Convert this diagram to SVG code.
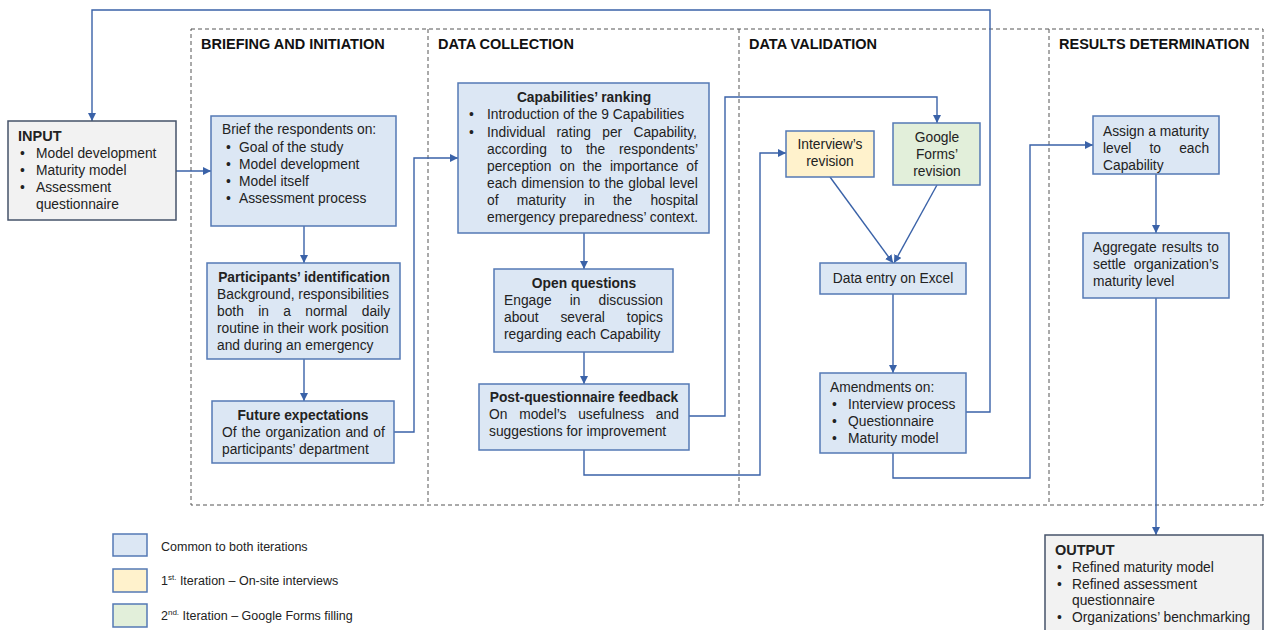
<svg xmlns="http://www.w3.org/2000/svg" width="1265" height="630" viewBox="0 0 1265 630">
<defs>
<marker id="ah" viewBox="0 0 10 10" refX="10" refY="5" markerWidth="8" markerHeight="8" markerUnits="userSpaceOnUse" orient="auto">
<path d="M0,0 L10,5 L0,10 z" fill="#3a62a8"/>
</marker>
<style>
text{font-family:"Liberation Sans",Arial,sans-serif;font-size:13.8px;fill:#222}
.t{font-weight:bold}
.h{font-weight:bold;font-size:14.5px;fill:#111}
.c{text-anchor:middle}
.phase{fill:none;stroke:#555;stroke-width:1;stroke-dasharray:4,3}
.b{fill:#dce7f4;stroke:#5479b5;stroke-width:1.5}
.y{fill:#fff2cc;stroke:#5479b5;stroke-width:1.5}
.g{fill:#e2efda;stroke:#5479b5;stroke-width:1.5}
.io{fill:#f2f2f2;stroke:#46536a;stroke-width:1.5}
.ln{fill:none;stroke:#3a62a8;stroke-width:1.4}
.lg{font-size:12.5px}
</style>
</defs>
<rect width="1265" height="630" fill="#fff"/>

<g id="phases">
<rect class="phase" x="191" y="29" width="1072" height="476"/>
<line class="phase" x1="428" y1="29" x2="428" y2="505"/>
<line class="phase" x1="739" y1="29" x2="739" y2="505"/>
<line class="phase" x1="1049" y1="29" x2="1049" y2="505"/>
<text class="h" x="201" y="49">BRIEFING AND INITIATION</text>
<text class="h" x="438" y="49">DATA COLLECTION</text>
<text class="h" x="749" y="49">DATA VALIDATION</text>
<text class="h" x="1059" y="49">RESULTS DETERMINATION</text>
</g>

<g id="connectors">
<path class="ln" d="M176,171 H211" marker-end="url(#ah)"/>
<path class="ln" d="M304,226 V263" marker-end="url(#ah)"/>
<path class="ln" d="M304,359 V401" marker-end="url(#ah)"/>
<path class="ln" d="M394,432 H414 V158 H458" marker-end="url(#ah)"/>
<path class="ln" d="M584,233 V269" marker-end="url(#ah)"/>
<path class="ln" d="M584,352 V384" marker-end="url(#ah)"/>
<path class="ln" d="M689,416 H725 V97 H937 V123" marker-end="url(#ah)"/>
<path class="ln" d="M584,450 V475 H760 V153 H786" marker-end="url(#ah)"/>
<path class="ln" d="M830,177 L893,263" marker-end="url(#ah)"/>
<path class="ln" d="M937,185 L894,263" marker-end="url(#ah)"/>
<path class="ln" d="M893,294 V373" marker-end="url(#ah)"/>
<path class="ln" d="M966,412 H990 V10 H92 V121" marker-end="url(#ah)"/>
<path class="ln" d="M893,453 V478 H1030 V145 H1093" marker-end="url(#ah)"/>
<path class="ln" d="M1156,174 V233" marker-end="url(#ah)"/>
<path class="ln" d="M1156,298 V535" marker-end="url(#ah)"/>
</g>

<g id="input">
<rect class="io" x="8" y="121" width="168" height="99"/>
<text class="t" x="18" y="141" style="font-size:14.5px">INPUT</text>
<text x="20" y="158">•</text><text x="36" y="158">Model development</text>
<text x="20" y="175">•</text><text x="36" y="175">Maturity model</text>
<text x="20" y="192">•</text><text x="36" y="192">Assessment</text>
<text x="36" y="209">questionnaire</text>
</g>

<g id="brief">
<rect class="b" x="211" y="116" width="185" height="110"/>
<text x="222" y="134">Brief the respondents on:</text>
<text x="226" y="152">•</text><text x="239" y="152">Goal of the study</text>
<text x="226" y="169">•</text><text x="239" y="169">Model development</text>
<text x="226" y="186">•</text><text x="239" y="186">Model itself</text>
<text x="226" y="203">•</text><text x="239" y="203">Assessment process</text>
</g>

<g id="participants">
<rect class="b" x="207" y="263" width="193" height="96"/>
<text class="t c" x="304" y="282">Participants’ identification</text>
<text x="217" y="299">Background, responsibilities</text>
<text x="217" y="316" word-spacing="10.5">both in a normal daily</text>
<text x="217" y="333">routine in their work position</text>
<text x="217" y="350">and during an emergency</text>
</g>

<g id="future">
<rect class="b" x="212" y="401" width="182" height="62"/>
<text class="t c" x="303" y="420">Future expectations</text>
<text x="222" y="437" word-spacing="1">Of the organization and of</text>
<text x="222" y="454">participants’ department</text>
</g>

<g id="capabilities">
<rect class="b" x="458" y="83" width="251" height="150"/>
<text class="t c" x="584" y="102">Capabilities’ ranking</text>
<text x="469" y="119">•</text><text x="487" y="119">Introduction of the 9 Capabilities</text>
<text x="469" y="137">•</text><text x="487" y="137" word-spacing="7.4">Individual rating per Capability,</text>
<text x="487" y="154" word-spacing="10">according to the respondents’</text>
<text x="487" y="171" word-spacing="4.2">perception on the importance of</text>
<text x="487" y="188" word-spacing="0.6">each dimension to the global level</text>
<text x="487" y="205" word-spacing="14.4">of maturity in the hospital</text>
<text x="487" y="222">emergency preparedness’ context.</text>
</g>

<g id="open">
<rect class="b" x="494" y="269" width="179" height="83"/>
<text class="t c" x="584" y="288">Open questions</text>
<text x="504" y="305" word-spacing="14.3">Engage in discussion</text>
<text x="504" y="322" word-spacing="18.1">about several topics</text>
<text x="504" y="339">regarding each Capability</text>
</g>

<g id="post">
<rect class="b" x="479" y="384" width="210" height="66"/>
<text class="t c" x="584" y="402">Post-questionnaire feedback</text>
<text x="489" y="419" word-spacing="7.9">On model’s usefulness and</text>
<text x="489" y="436">suggestions for improvement</text>
</g>

<g id="interview">
<rect class="y" x="786" y="131" width="88" height="46"/>
<text class="c" x="830" y="149">Interview’s</text>
<text class="c" x="830" y="166">revision</text>
</g>

<g id="google">
<rect class="g" x="893" y="123" width="87" height="62"/>
<text class="c" x="937" y="142">Google</text>
<text class="c" x="937" y="159">Forms’</text>
<text class="c" x="937" y="176">revision</text>
</g>

<g id="dataentry">
<rect class="b" x="820" y="263" width="146" height="31"/>
<text class="c" x="893" y="283">Data entry on Excel</text>
</g>

<g id="amendments">
<rect class="b" x="820" y="373" width="146" height="80"/>
<text x="830" y="392">Amendments on:</text>
<text x="832" y="409">•</text><text x="848" y="409">Interview process</text>
<text x="832" y="426">•</text><text x="848" y="426">Questionnaire</text>
<text x="832" y="443">•</text><text x="848" y="443">Maturity model</text>
</g>

<g id="assign">
<rect class="b" x="1093" y="116" width="126" height="58"/>
<text x="1103" y="136">Assign a maturity</text>
<text x="1103" y="153" word-spacing="14.3">level to each</text>
<text x="1103" y="170">Capability</text>
</g>

<g id="aggregate">
<rect class="b" x="1083" y="233" width="146" height="65"/>
<text x="1093" y="252" word-spacing="1.2">Aggregate results to</text>
<text x="1093" y="269" word-spacing="4">settle organization’s</text>
<text x="1093" y="286">maturity level</text>
</g>

<g id="output">
<rect class="io" x="1045" y="535" width="218" height="100"/>
<text class="t" x="1055" y="555" style="font-size:14.5px">OUTPUT</text>
<text x="1057" y="572">•</text><text x="1072" y="572">Refined maturity model</text>
<text x="1057" y="589">•</text><text x="1072" y="589">Refined assessment</text>
<text x="1072" y="605">questionnaire</text>
<text x="1057" y="622">•</text><text x="1072" y="622">Organizations’ benchmarking</text>
</g>

<g id="legend">
<rect class="b" x="113" y="534" width="34" height="22"/>
<rect class="y" x="113" y="569" width="34" height="23"/>
<rect class="g" x="113" y="604" width="34" height="23"/>
<text class="lg" x="161" y="551">Common to both iterations</text>
<text class="lg" x="161" y="585">1<tspan dy="-5" style="font-size:8px">st.</tspan><tspan dy="5"> Iteration – On-site interviews</tspan></text>
<text class="lg" x="161" y="620">2<tspan dy="-5" style="font-size:8px">nd.</tspan><tspan dy="5"> Iteration – Google Forms filling</tspan></text>
</g>
</svg>
